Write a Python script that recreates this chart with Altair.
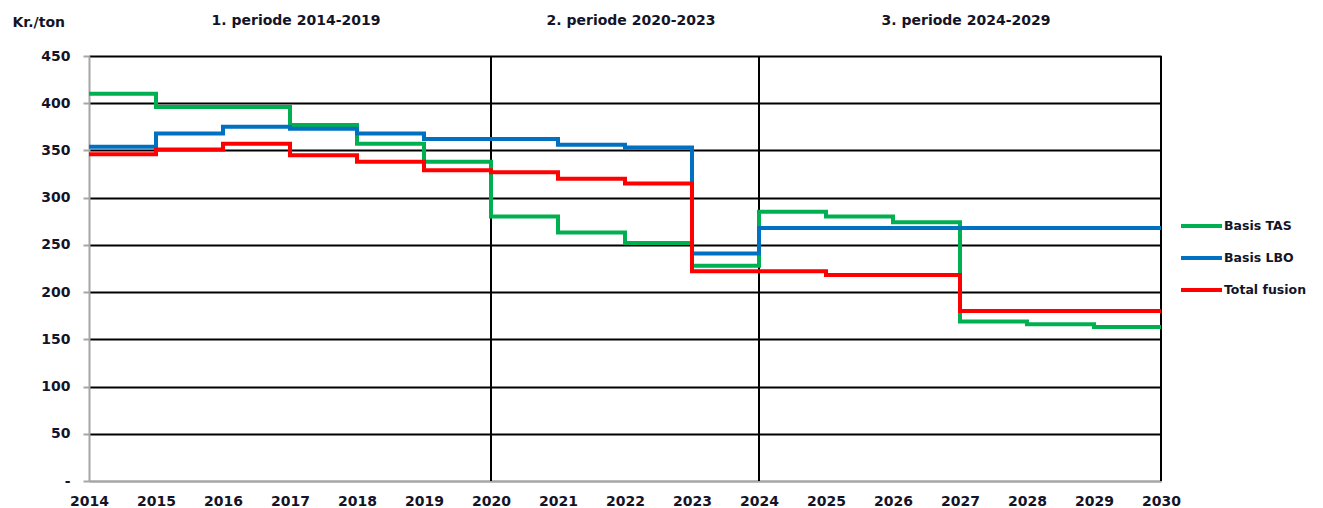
import altair as alt
import pandas as pd

# ---------------- data ----------------
years = list(range(2014, 2031))               # tick years 2014..2030
step_years = list(range(2014, 2030))          # start year of each yearly step
series_names = ["Basis TAS", "Basis LBO", "Total fusion"]
series_colors = ["#00B050", "#0070C0", "#FF0000"]

basis_tas = [410, 396, 396, 377, 357, 338, 280, 263, 252, 228, 285, 280, 274, 169, 166, 163]
basis_lbo = [354, 368, 375, 373, 368, 362, 362, 356, 353, 241, 268, 268, 268, 268, 268, 268]
total_fusion = [346, 351, 357, 345, 338, 329, 327, 320, 315, 222, 222, 218, 218, 180, 180, 180]

y_ticks = [0, 50, 100, 150, 200, 250, 300, 350, 400, 450]

period_labels = ["1. periode 2014-2019", "2. periode 2020-2023", "3. periode 2024-2029"]
period_starts = [2014, 2020, 2024]
period_ends = [2020, 2024, 2030]

# ---------------- tables ----------------
rows = []
for name, vals in zip(series_names, [basis_tas, basis_lbo, total_fusion]):
    for yr, v in zip(step_years, vals):
        rows.append({"series": name, "year": yr, "value": v})
    rows.append({"series": name, "year": 2030, "value": vals[-1]})
df = pd.DataFrame(rows)

period_df = pd.DataFrame({"label": period_labels, "start": period_starts, "end": period_ends})
bounds_df = pd.DataFrame({"year": period_ends})
legend_df = pd.DataFrame({"series": series_names})

FONT = "DejaVu Sans"
TEXT = "#141428"
GRAY = "#A6A6A6"

x_scale = alt.Scale(domain=[2014, 2030], nice=False, zero=False)
x_enc = alt.X(
    "year:Q",
    scale=x_scale,
    axis=alt.Axis(
        values=years, format="d", title=None, grid=False, ticks=False,
        domainColor=GRAY, domainWidth=2, labelPadding=13, labelFlush=False,
        labelFont=FONT, labelFontSize=14, labelFontWeight="bold", labelColor=TEXT,
    ),
)
y_enc = alt.Y(
    "value:Q",
    scale=alt.Scale(domain=[0, 450], nice=False, zero=True),
    axis=alt.Axis(
        values=y_ticks, title="Kr./ton", titleAngle=0, titleX=-77, titleY=-34,
        titleAlign="left", titleBaseline="middle", titleFont=FONT, titleFontSize=14,
        titleFontWeight="bold", titleColor=TEXT,
        grid=True,
        gridColor=alt.condition(alt.datum.value == 0, alt.value(GRAY), alt.value("#000000")),
        gridWidth=2, gridOpacity=1,
        domainColor=GRAY, domainWidth=2, tickColor=GRAY, tickSize=6, tickWidth=2,
        labelPadding=13, labelFont=FONT, labelFontSize=14, labelFontWeight="bold",
        labelColor=TEXT, labelExpr="datum.value == 0 ? '-' : datum.label",
    ),
)
color_enc = alt.Color(
    "series:N",
    scale=alt.Scale(domain=series_names, range=series_colors),
    legend=None,
)

vrules = alt.Chart(bounds_df).mark_rule(color="#000000", strokeWidth=2).encode(
    x=alt.X("year:Q", scale=x_scale)
)

line_layers = []
for name in series_names:
    line_layers.append(
        alt.Chart(df)
        .transform_filter(alt.datum.series == name)
        .mark_line(interpolate="step-after", strokeWidth=4)
        .encode(x=x_enc, y=y_enc, color=color_enc)
    )

period_text = (
    alt.Chart(period_df)
    .transform_calculate(mid="(datum.start + datum.end) / 2")
    .mark_text(dx=6, font=FONT, fontSize=14, fontWeight="bold", color=TEXT, baseline="middle")
    .encode(x=alt.X("mid:Q", scale=x_scale), y=alt.value(-35), text="label:N")
)

main = alt.layer(vrules, *line_layers, period_text)

leg_y = alt.Y(
    "series:N", sort=series_names,
    scale=alt.Scale(type="point", range=[170, 234], padding=0), axis=None,
)
legend_rules = alt.Chart(legend_df).mark_rule(strokeWidth=4).encode(
    x=alt.value(1092), x2=alt.value(1133), y=leg_y, color=color_enc
)
legend_text = alt.Chart(legend_df).mark_text(
    align="left", baseline="middle", font=FONT, fontSize=12.5, fontWeight="bold", color=TEXT
).encode(x=alt.value(1135), y=leg_y, text="series:N")
legend = alt.layer(legend_rules, legend_text)

chart = (
    alt.layer(main, legend)
    .resolve_scale(y="independent")
    .properties(
        width=1072,
        height=425,
        autosize=alt.AutoSizeParams(type="none"),
        padding={"left": 81, "top": 48, "right": 154, "bottom": 27},
        background="white",
    )
    .configure_view(stroke=None)
)

chart.save("out.html", embed_options={"renderer": "svg", "actions": False})
